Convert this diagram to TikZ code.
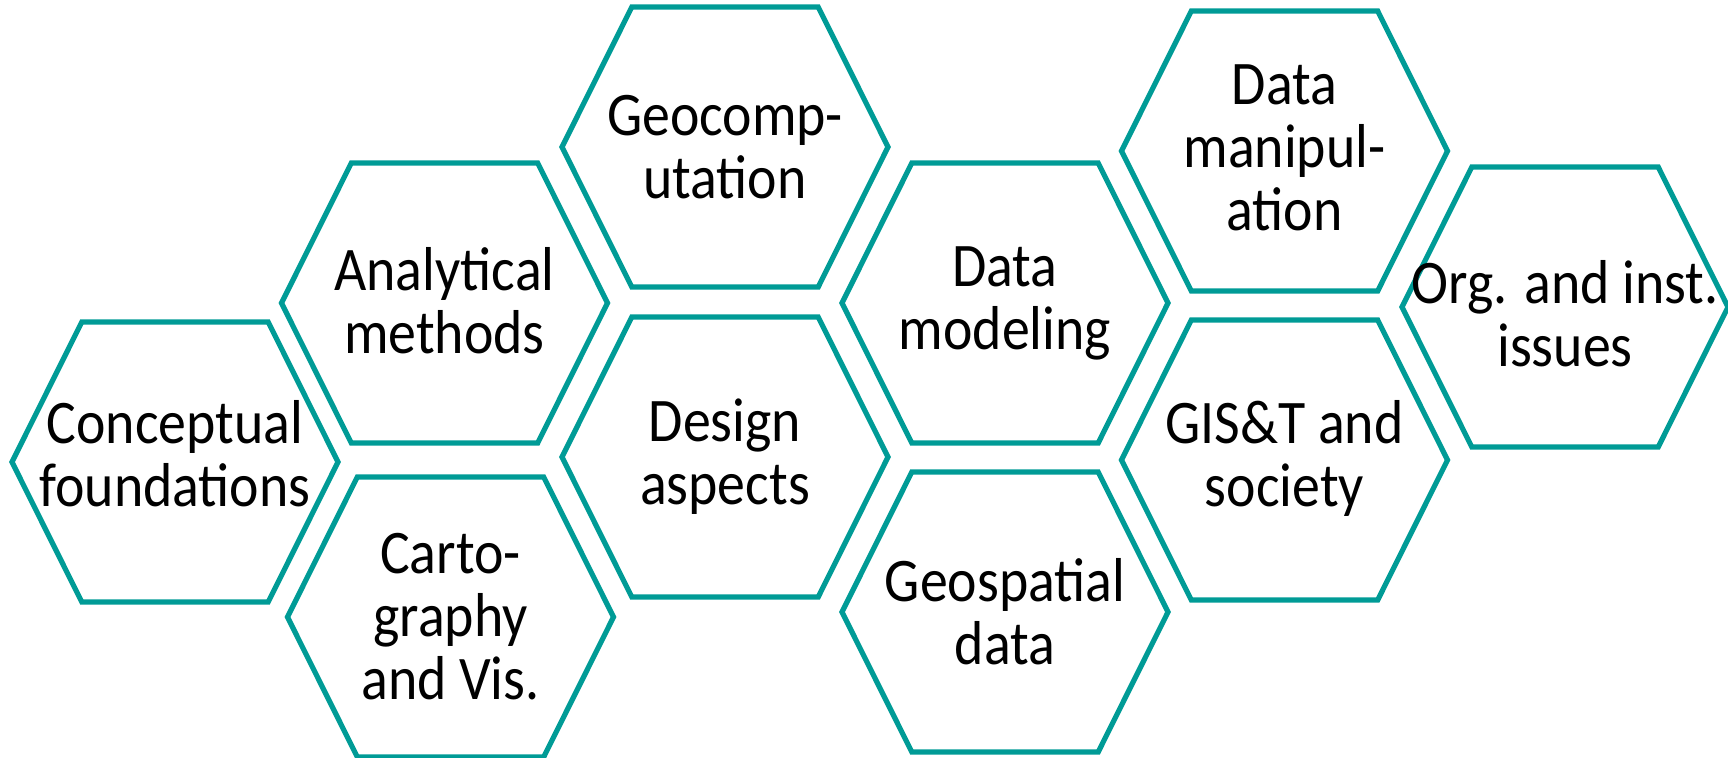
\documentclass[tikz,border=0pt]{standalone}
\usepackage{fontspec}
\setmainfont[FakeStretch=0.9]{Carlito}
\usetikzlibrary{shapes.symbols}
\definecolor{HexColor}{RGB}{0,155,150}
\tikzset{
    hexcell/.style={signal, signal to=east and west, signal pointer angle=127, draw=HexColor, line width=2.6pt, minimum width=163pt, minimum height=140pt, inner sep=0pt},
    topic/.style={align=center, font=\fontsize{31}{31.5}\selectfont, inner sep=0pt}
}

\begin{document}
\begin{tikzpicture}[x=0.5pt, y=-0.5pt]
\useasboundingbox (0,0) rectangle (1728,757);

% First column
\node (concept) [hexcell] at (175,462) {};
\node (concept-txt) [topic, yshift=4pt] at (concept) {Conceptual\\foundations};

% Second column
\node (analytic) [hexcell] at (444.5,303) {};
\node (analytic-txt) [topic, yshift=1pt] at (analytic) {Analytical\\methods};
\node (carto) [hexcell] at (450.5,617) {};
\node (carto-txt) [topic] at (carto) {Carto-\\graphy\\and Vis.};

% Third column
\node (geocomp) [hexcell] at (725,147) {};
\node (geocomp-txt) [topic] at (geocomp) {Geocomp-\\utation};
\node (design) [hexcell] at (725,457) {};
\node (design-txt) [topic] at (design) {Design\\aspects};

% Fourth column
\node (modeling) [hexcell] at (1005,303) {};
\node (modeling-txt) [topic] at (modeling) {Data\\modeling};
\node (geodata) [hexcell] at (1005,612) {};
\node (geodata-txt) [topic] at (geodata) {Geospatial\\data};

% Fifth column
\node (manip) [hexcell] at (1284.5,151) {};
\node (manip-txt) [topic, yshift=1.5pt] at (manip) {Data\\manipul-\\ation};
\node (society) [hexcell] at (1284.5,460) {};
\node (society-txt) [topic, yshift=1pt] at (society) {GIS\&T and\\society};

% Last column
\node (org) [hexcell] at (1565,307) {};
\node (org-txt) [topic, yshift=-3.5pt] at (org) {Org. and inst.\\issues};

\end{tikzpicture}
\end{document}
